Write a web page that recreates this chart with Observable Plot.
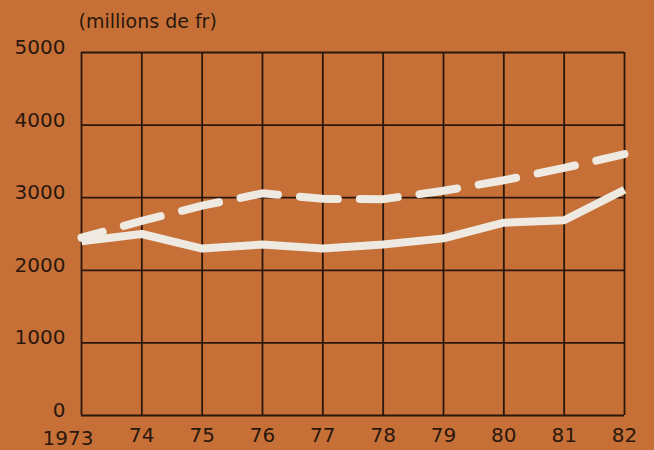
<!DOCTYPE html>
<html>
<head>
<meta charset="utf-8">
<script src="https://cdn.jsdelivr.net/npm/d3@7"></script>
<script src="https://cdn.jsdelivr.net/npm/@observablehq/plot@0.6"></script>
<style>
  html, body { margin: 0; padding: 0; background: #c67038; }
  #chart { width: 654px; height: 450px; overflow: hidden; }
</style>
</head>
<body>
<div id="chart"></div>
<script>
const years = [1973, 1974, 1975, 1976, 1977, 1978, 1979, 1980, 1981, 1982];
const xLabels = ["1973", "74", "75", "76", "77", "78", "79", "80", "81", "82"];
const solidValues = [2400, 2500, 2300, 2355, 2300, 2355, 2440, 2655, 2690, 3110];
const dashedValues = [2450, 2680, 2890, 3060, 2985, 2980, 3095, 3240, 3410, 3600];
const yTicks = [0, 1000, 2000, 3000, 4000, 5000];
const unitLabel = "(millions de fr)";

const solid = years.map((y, i) => ({year: y, value: solidValues[i]}));
const dashed = years.map((y, i) => ({year: y, value: dashedValues[i]}));

const ink = "#2a170c";
const white = "#eeeae2";

const chart = Plot.plot({
  width: 654,
  height: 450,
  marginLeft: 81,
  marginRight: 30,
  marginTop: 52,
  marginBottom: 35,
  style: {background: "#c67038", fontFamily: "DejaVu Sans, sans-serif", color: ink},
  x: {domain: [1973, 1982], axis: null},
  y: {domain: [0, 5000], axis: null},
  marks: [
    Plot.ruleX(years, {x: d => d, y1: 0, y2: 5000, stroke: ink, strokeWidth: 1.8}),
    Plot.ruleY(yTicks, {y: d => d, x1: 1973, x2: 1982, stroke: ink, strokeWidth: 1.8}),
    Plot.line(solid, {x: "year", y: "value", stroke: white, strokeWidth: 8, strokeLinejoin: "round", strokeLinecap: "butt"}),
    Plot.line(dashed, {x: "year", y: "value", stroke: white, strokeWidth: 8, strokeLinecap: "round", strokeLinejoin: "round", strokeDasharray: "38,22", strokeDashoffset: 16}),
    Plot.text(yTicks, {y: d => d, text: d => String(d), frameAnchor: "left", dx: -16, dy: -5, textAnchor: "end", lineAnchor: "middle", fontSize: 20, fill: ink}),
    Plot.text([xLabels[0]], {x: [years[0]], text: d => d, frameAnchor: "bottom", dx: 12, dy: 23, textAnchor: "end", lineAnchor: "middle", fontSize: 20, fill: ink}),
    Plot.text(xLabels.slice(1), {x: years.slice(1), text: d => d, frameAnchor: "bottom", dy: 20, textAnchor: "middle", lineAnchor: "middle", fontSize: 20, fill: ink}),
    Plot.text([unitLabel], {text: d => d, frameAnchor: "top-left", dx: -3, dy: -25, textAnchor: "start", lineAnchor: "bottom", fontSize: 19, fill: ink})
  ]
});
document.getElementById("chart").appendChild(chart);
</script>
</body>
</html>
